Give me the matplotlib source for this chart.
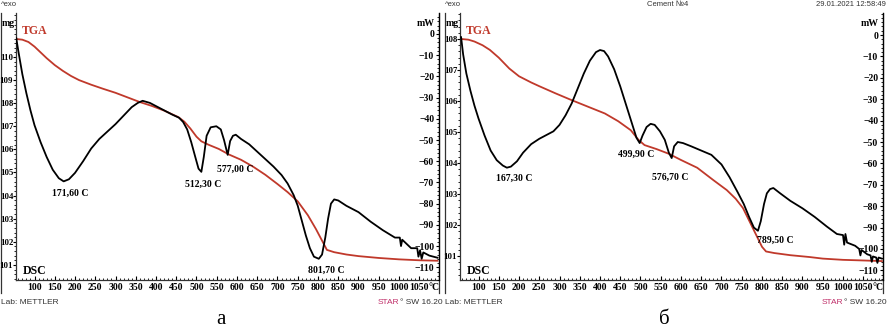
import matplotlib
matplotlib.use('Agg')
import matplotlib.pyplot as plt
from matplotlib.ticker import MultipleLocator

# --- panel a: DSC (mW) and TGA (mg) against temperature (°C)
t_dsc_a = [55, 60, 70, 80, 90, 100, 115, 130, 145, 160, 172, 185, 200, 220, 240, 260, 280, 300, 320, 340,
           355, 367, 385, 400, 420, 440, 457, 467, 477, 487, 497, 505, 512, 518, 525, 535, 549, 560, 568,
           577, 583, 590, 597, 610, 630, 650, 670, 690, 710, 725, 740, 750, 760, 770, 780, 790, 802, 810,
           818, 825, 832, 840, 850, 870, 900, 930, 960, 990, 1002, 1005, 1008, 1030, 1045, 1048, 1052,
           1056, 1060, 1075, 1095]
dsc_a = [-2, -8, -19, -28, -36, -43, -51, -58, -64, -68, -69.5, -68.5, -65.5, -60, -54, -49.5, -46, -42.5,
         -38.5, -34.5, -32.5, -31.5, -32.5, -34, -36, -38, -39.5, -41.5, -45, -51, -58, -63.5, -65, -58,
         -48, -44, -43.5, -45, -50, -57, -50.5, -48, -47.5, -49.5, -52, -55.5, -59, -62.5, -66.5, -70.5,
         -76, -81, -88, -95, -101, -105, -106, -104, -96, -87, -80, -78, -78.5, -81, -84, -88.5, -92.5,
         -96, -96, -100, -97, -101, -101, -105, -102, -106, -103, -104.5, -105.5]
t_tga_a = [55, 70, 85, 100, 115, 130, 150, 170, 190, 210, 240, 270, 300, 330, 360, 390, 420, 455, 470,
           485, 500, 512, 530, 555, 580, 610, 640, 670, 700, 725, 750, 775, 795, 810, 822, 840, 870, 900,
           950, 1000, 1050, 1095]
tga_a = [110.78, 110.75, 110.65, 110.45, 110.2, 109.95, 109.65, 109.4, 109.18, 109.0, 108.8, 108.62,
         108.45, 108.25, 108.05, 107.88, 107.68, 107.4, 107.2, 106.9, 106.55, 106.35, 106.2, 106.02,
         105.78, 105.55, 105.25, 104.9, 104.5, 104.15, 103.75, 103.15, 102.55, 102.05, 101.65, 101.55,
         101.45, 101.38, 101.3, 101.24, 101.2, 101.18]
peaks_a = ['171,60 C', '512,30 C', '577,00 C', '801,70 C']
peaks_a_pos = [(188, -75), (517, -70.8), (596, -63.7), (820, -111.3)]

# --- panel б
t_dsc_b = [57, 62, 70, 80, 90, 100, 115, 130, 145, 160, 170, 180, 195, 210, 230, 250, 270, 285, 300, 315,
           330, 345, 360, 375, 390, 400, 410, 420, 435, 450, 465, 480, 490, 498, 505, 515, 525, 535, 548,
           560, 570, 577, 583, 592, 605, 625, 650, 675, 700, 720, 740, 755, 768, 780, 790, 797, 805, 812,
           820, 828, 845, 870, 900, 930, 960, 985, 1000, 1003, 1006, 1010, 1030, 1040, 1043, 1046, 1060,
           1068, 1071, 1074, 1082, 1085, 1088, 1096]
dsc_b = [-1, -9, -18, -26, -33, -39, -47, -54, -58.5, -61, -62, -61.5, -59, -55, -51, -48.5, -46.5, -45,
         -42, -37.5, -32, -25, -18, -12, -8, -7, -7.5, -10, -16, -24, -33, -42, -48, -50.5, -47, -43,
         -41.5, -42, -45, -49, -55, -57.5, -52, -50, -50.5, -52, -54, -56, -60.5, -66.5, -73.5, -79, -85,
         -90, -91.5, -87, -79, -74, -72, -71.5, -74, -77.5, -81, -85, -89.5, -93, -93.5, -98, -93, -97,
         -98.5, -100, -103, -100.5, -102.5, -103, -106, -103.5, -104, -106.5, -104, -104.5]
t_tga_b = [59, 75, 90, 110, 128, 150, 176, 200, 230, 250, 290, 330, 370, 412, 445, 476, 495, 510, 540,
           570, 600, 640, 680, 713, 735, 753, 770, 785, 800, 810, 830, 870, 918, 950, 1000, 1050, 1096]
tga_b = [108.0, 107.98, 107.92, 107.8, 107.65, 107.4, 107.05, 106.8, 106.6, 106.48, 106.25, 106.03,
         105.82, 105.6, 105.35, 105.06, 104.75, 104.58, 104.45, 104.3, 104.1, 103.85, 103.45, 103.13,
         102.85, 102.55, 102.1, 101.7, 101.3, 101.15, 101.1, 101.03, 100.97, 100.92, 100.88, 100.86,
         100.84]
peaks_b = ['167,30 C', '499,90 C', '576,70 C', '789,50 C']
peaks_b_pos = [(188, -66.8), (490, -55.6), (573, -66.4), (832, -95.8)]

t_ticks = list(range(100, 1051, 50))

W, H = 888, 329
fig = plt.figure(figsize=(W / 100, H / 100), dpi=100)
serif = 'Liberation Serif'
sans = 'Liberation Sans'
red = '#c0392b'


def box(x0, y0, x1, y1):
    return [x0 / W, 1 - y1 / H, (x1 - x0) / W, (y1 - y0) / H]


def ftext(x, y, s, **kw):
    fig.text(x / W, 1 - y / H, s, **kw)


def panel(dx, t_dsc, dsc, t_tga, tga, mg_lim, mw_lim, mg_ticks, peaks, peaks_pos):
    frame = fig.add_axes(box(1 + dx, 13, 439 + dx, 293))
    frame.set_xticks([])
    frame.set_yticks([])
    frame.patch.set_visible(False)
    for s in ['top', 'bottom']:
        frame.spines[s].set_visible(False)
    for s in ['left', 'right']:
        frame.spines[s].set_linewidth(0.9)
        frame.spines[s].set_color('#333333')

    ax = fig.add_axes(box(16 + dx, 13, 439 + dx, 280))
    ax.patch.set_visible(False)
    ax.spines['top'].set_visible(False)
    ax.spines['right'].set_visible(False)
    for s in ['left', 'bottom']:
        ax.spines[s].set_linewidth(0.9)
        ax.spines[s].set_color('#333333')
    ax.plot(t_tga, tga, color=red, lw=1.3)
    ax.set_xlim(54.3, 1098.8)
    ax.set_ylim(*mg_lim)
    ax.set_yticks(mg_ticks)
    ax.yaxis.set_minor_locator(MultipleLocator(0.2))
    ax.set_xticks(t_ticks)
    ax.xaxis.set_minor_locator(MultipleLocator(10))
    ax.tick_params(axis='y', which='major', direction='out', length=2, width=0.8, pad=0,
                   labelsize=6.3)
    ax.tick_params(axis='y', which='minor', direction='out', length=1.2, width=0.6)
    ax.tick_params(axis='x', which='major', direction='in', length=3, width=0.8, pad=2, labelsize=7)
    ax.tick_params(axis='x', which='minor', direction='in', length=1.5, width=0.6)
    for lbl in ax.get_xticklabels() + ax.get_yticklabels():
        lbl.set_fontfamily(serif)
        lbl.set_fontweight('bold')

    ax2 = ax.twinx()
    ax2.spines['top'].set_visible(False)
    ax2.spines['left'].set_visible(False)
    ax2.spines['bottom'].set_visible(False)
    ax2.spines['right'].set_linewidth(0.9)
    ax2.plot(t_dsc, dsc, color='black', lw=1.3)
    ax2.set_ylim(*mw_lim)
    ax2.set_yticks(list(range(0, -111, -10)))
    ax2.yaxis.set_minor_locator(MultipleLocator(2))
    ax2.tick_params(axis='y', which='major', direction='in', length=2.5, width=0.8, pad=-3.5,
                    labelsize=7)
    ax2.tick_params(axis='y', which='minor', direction='in', length=1.2, width=0.6)
    for lbl in ax2.get_yticklabels():
        lbl.set_fontfamily(serif)
        lbl.set_fontweight('bold')
        lbl.set_ha('right')

    for s, (tx, ty) in zip(peaks, peaks_pos):
        ax2.text(tx, ty, s, ha='center', va='center', fontsize=7, fontfamily=serif,
                 fontweight='bold')

    # labels around the panel
    ftext(1 + dx, 5, '^exo', fontsize=5.5, fontfamily=sans, color='#333333', va='center')
    ftext(8 + dx, 24, 'mg', fontsize=7, fontfamily=serif, fontweight='bold', ha='center', va='center')
    ftext(426 + dx, 24, 'mW', fontsize=7, fontfamily=serif, fontweight='bold', ha='center',
          va='center')
    ftext(22 + dx, 31, 'TGA', fontsize=8.5, fontfamily=serif, fontweight='bold', color=red,
          va='center')
    ftext(23 + dx, 271, 'DSC', fontsize=8.5, fontfamily=serif, fontweight='bold', va='center')
    ftext(428 + dx, 288, '°C', fontsize=7, fontfamily=serif, fontweight='bold', va='center')
    ftext(1 + dx, 302, 'Lab: METTLER', fontsize=6, fontfamily=sans, color='#333333', va='center')
    ftext(399 + dx, 302, 'STAR', fontsize=6, fontfamily=sans, color='#c0306a', va='center',
          ha='right')
    ftext(400 + dx, 302, '° SW 16.20', fontsize=6, fontfamily=sans, color='#333333', va='center')
    return ax, ax2


panel(0, t_dsc_a, dsc_a, t_tga_a, tga_a, (100.346, 111.905), (-116.0, 9.9),
      list(range(101, 111)), peaks_a, peaks_a_pos)
panel(444, t_dsc_b, dsc_b, t_tga_b, tga_b, (100.23, 108.84), (-114.5, 10.3),
      list(range(101, 109)), peaks_b, peaks_b_pos)

ftext(647, 5, 'Cement №4', fontsize=5.5, fontfamily=sans, color='#333333', va='center')
ftext(886, 5, '29.01.2021 12:58:49', fontsize=5.5, fontfamily=sans, color='#333333', va='center',
      ha='right')
ftext(221, 324, 'а', fontsize=15, fontfamily=serif, ha='center', va='baseline')
ftext(664, 324, 'б', fontsize=15, fontfamily=serif, ha='center', va='baseline')

fig.savefig('out.png', dpi=100)
